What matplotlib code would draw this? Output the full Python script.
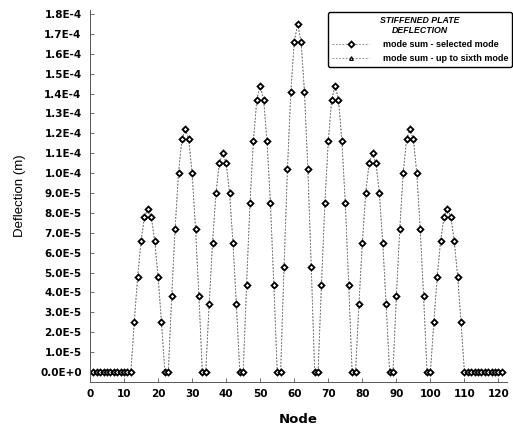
import matplotlib
matplotlib.use("Agg")
import matplotlib.pyplot as plt
import numpy as np

# ---- data ----
nodes = list(range(1, 122))
row2 = [0, 2.5e-5, 4.8e-5, 6.6e-5, 7.8e-5, 8.2e-5, 7.8e-5, 6.6e-5, 4.8e-5, 2.5e-5, 0]
row3 = [0, 3.8e-5, 7.2e-5, 1.0e-4, 1.17e-4, 1.22e-4, 1.17e-4, 1.0e-4, 7.2e-5, 3.8e-5, 0]
row4 = [0, 3.4e-5, 6.5e-5, 9.0e-5, 1.05e-4, 1.10e-4, 1.05e-4, 9.0e-5, 6.5e-5, 3.4e-5, 0]
row5 = [0, 4.4e-5, 8.5e-5, 1.16e-4, 1.37e-4, 1.44e-4, 1.37e-4, 1.16e-4, 8.5e-5, 4.4e-5, 0]
row6 = [0, 5.3e-5, 1.02e-4, 1.41e-4, 1.66e-4, 1.75e-4, 1.66e-4, 1.41e-4, 1.02e-4, 5.3e-5, 0]
row7 = [0, 4.4e-5, 8.5e-5, 1.16e-4, 1.37e-4, 1.44e-4, 1.37e-4, 1.16e-4, 8.5e-5, 4.4e-5, 0]
row8 = [0, 3.4e-5, 6.5e-5, 9.0e-5, 1.05e-4, 1.10e-4, 1.05e-4, 9.0e-5, 6.5e-5, 3.4e-5, 0]
row9 = [0, 3.8e-5, 7.2e-5, 1.0e-4, 1.17e-4, 1.22e-4, 1.17e-4, 1.0e-4, 7.2e-5, 3.8e-5, 0]
row10 = [0, 2.5e-5, 4.8e-5, 6.6e-5, 7.8e-5, 8.2e-5, 7.8e-5, 6.6e-5, 4.8e-5, 2.5e-5, 0]
row_edge = [0] * 11

selected_mode = row_edge + row2 + row3 + row4 + row5 + row6 + row7 + row8 + row9 + row10 + row_edge
sixth_mode = list(selected_mode)

x_ticks = list(range(0, 121, 10))
y_ticks = [i * 1e-5 for i in range(0, 19)]
y_tick_labels = ["0.0E+0", "1.0E-5", "2.0E-5", "3.0E-5", "4.0E-5", "5.0E-5", "6.0E-5",
                 "7.0E-5", "8.0E-5", "9.0E-5", "1.0E-4", "1.1E-4", "1.2E-4", "1.3E-4",
                 "1.4E-4", "1.5E-4", "1.6E-4", "1.7E-4", "1.8E-4"]

# ---- figure ----
fig = plt.figure(figsize=(5.13, 4.25), dpi=100)
ax = fig.add_axes([90 / 513, 43 / 425, 417 / 513, 372 / 425])

line_kw = dict(color="#777777", lw=0.6, linestyle=(0, (2, 2)))
ax.plot(nodes, sixth_mode, marker="^", markersize=2.6, markerfacecolor="white",
        markeredgecolor="black", markeredgewidth=0.9, label="mode sum - up to sixth mode",
        **line_kw)
ax.plot(nodes, selected_mode, marker="D", markersize=3.0, markerfacecolor="white",
        markeredgecolor="black", markeredgewidth=1.3, label="mode sum - selected mode",
        **line_kw)

ax.set_xlim(0, 122.5)
ax.set_ylim(-5e-6, 1.82e-4)
ax.set_xticks(x_ticks)
ax.set_xticklabels([str(v) for v in x_ticks])
ax.set_yticks(y_ticks)
ax.set_yticklabels(y_tick_labels)

for s in ["top", "right"]:
    ax.spines[s].set_visible(False)
for s in ["left", "bottom"]:
    ax.spines[s].set_color("#555555")
    ax.spines[s].set_linewidth(0.7)

ax.tick_params(axis="both", direction="in", length=3, width=0.6, color="#555555")
for lab in ax.get_xticklabels() + ax.get_yticklabels():
    lab.set_fontfamily("DejaVu Sans")
    lab.set_fontweight("bold")
    lab.set_fontsize(7.5)
ax.tick_params(axis="y", pad=6)
ax.tick_params(axis="x", pad=5)

ax.set_xlabel("Node", fontsize=9.5, fontweight="bold", labelpad=10)
ax.set_ylabel("Deflection (m)", fontsize=9.5,
              family=["Liberation Sans Narrow", "Liberation Sans"], labelpad=10)

h, l = ax.get_legend_handles_labels()
leg = ax.legend([h[1], h[0]], [l[1], l[0]], loc="upper right",
                bbox_to_anchor=(512 / 513, 1 - 12 / 425), bbox_transform=fig.transFigure,
                title="STIFFENED PLATE\nDEFLECTION",
                title_fontproperties={"weight": "bold", "style": "italic", "size": 6.3,
                                      "family": "Liberation Sans"},
                prop={"size": 6.5, "weight": "bold", "family": "Liberation Sans"},
                frameon=True, fancybox=True, edgecolor="black", handlelength=4.2,
                borderpad=0.4, labelspacing=0.55, handletextpad=1.5, borderaxespad=0)
leg.get_title().set_multialignment("center")
leg.get_frame().set_linewidth(1.0)
leg.get_frame().set_alpha(1)

fig.savefig("out.png", dpi=100)
